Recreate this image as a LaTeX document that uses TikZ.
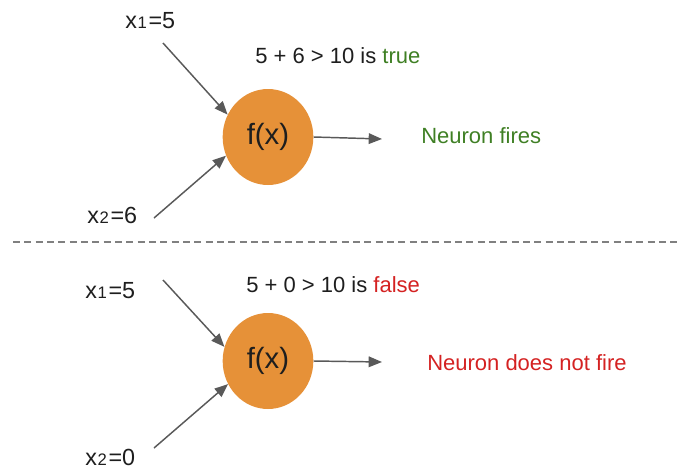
\documentclass[tikz,border=0pt]{standalone}
\usepackage{fontspec}
\setmainfont{Liberation Sans}
\usetikzlibrary{arrows.meta,shapes.geometric}
\definecolor{laranja}{HTML}{E69138}
\definecolor{verde}{HTML}{3F7F24}
\definecolor{vermelho}{HTML}{D42222}
\definecolor{cinzaseta}{HTML}{595959}
\definecolor{texto}{HTML}{1E1E1E}
\newcommand{\xsub}[1]{x\kern0.6pt\raisebox{-0.6pt}{\fontsize{12.5}{12.5}\selectfont #1}\kern1.2pt}

\begin{document}
\begin{tikzpicture}[x=0.75pt, y=-0.75pt,
    rotulo/.style={anchor=base west, inner sep=0pt, text=texto, font=\fontsize{16.5}{18}\selectfont},
    entrada/.style={rotulo, font=\fontsize{17.5}{19}\selectfont},
    neuronio/.style={ellipse, fill=laranja, minimum width=68pt, minimum height=72pt, inner sep=0pt, text=texto, font=\fontsize{22}{24}\selectfont},
    seta/.style={draw=cinzaseta, line width=1.1pt, -{Triangle[length=10pt,width=8pt]}}]
    \useasboundingbox (0,0) rectangle (678,468);

    % Neuronios
    \node[neuronio] (f1) at (268,137) {f(x)};
    \node[neuronio] (f2) at (268,361) {f(x)};

    % Pontas livres das setas
    \coordinate (e1a) at (163,43);
    \coordinate (e1b) at (154,218);
    \coordinate (s1) at (382,139);
    \coordinate (e2a) at (163,280);
    \coordinate (e2b) at (154,448);
    \coordinate (s2) at (382,362);

    % Setas
    \draw[seta] (e1a) -- (f1.151);
    \draw[seta] (e1b) -- (f1.204);
    \draw[seta] (f1.east) -- (s1);
    \draw[seta] (e2a) -- (f2.162);
    \draw[seta] (e2b) -- (f2.210);
    \draw[seta] (f2.east) -- (s2);

    % Rotulos
    \node[entrada] (x1a) at (125,28) {\xsub{1}=5};
    \node[entrada] (x2a) at (87,223) {\xsub{2}=6};
    \node[rotulo] (cond1) at (255,63) {5 + 6 > 10 is \textcolor{verde}{true}};
    \node[rotulo, text=verde] (res1) at (421,143) {Neuron fires};
    \node[entrada] (x1b) at (85,298) {\xsub{1}=5};
    \node[entrada] (x2b) at (85,465) {\xsub{2}=0};
    \node[rotulo] (cond2) at (246,292) {5 + 0 > 10 is \textcolor{vermelho}{false}};
    \node[rotulo, text=vermelho] (res2) at (427,370) {Neuron does not fire};

    % Linha divisoria
    \draw[gray, line width=1.3pt, dash pattern=on 5.3pt off 3.2pt] (13,242) -- (678,242);
\end{tikzpicture}
\end{document}
